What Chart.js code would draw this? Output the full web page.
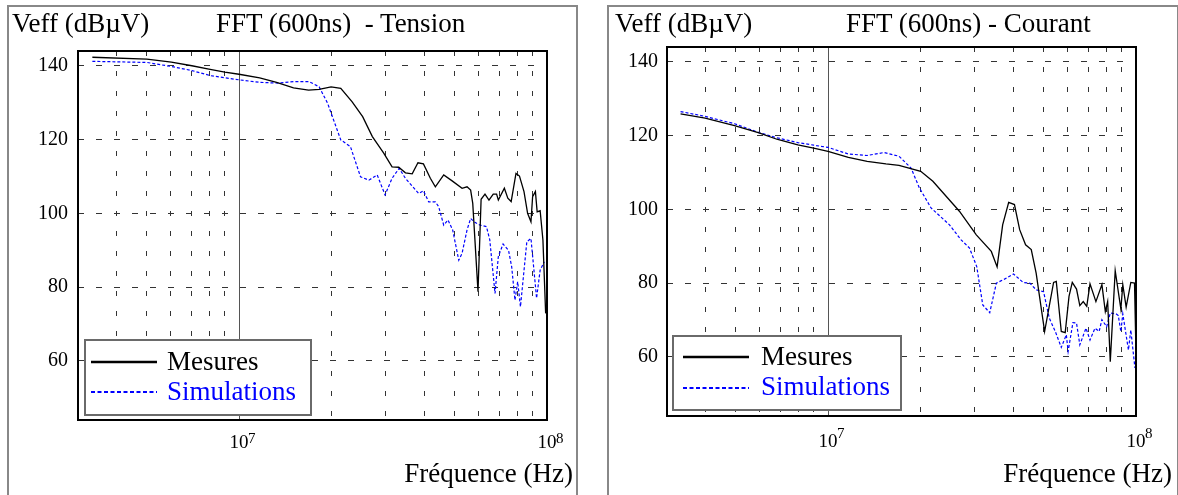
<!DOCTYPE html>
<html><head><meta charset="utf-8">
<script src="https://cdn.jsdelivr.net/npm/chart.js@4.4.1/dist/chart.umd.min.js"></script>
<style>
html,body{margin:0;padding:0;background:#fff;width:1178px;height:495px;overflow:hidden;font-family:'Liberation Serif','Times New Roman',serif;}
.panel{position:absolute;border:2px solid #888;box-sizing:border-box;}
canvas{position:absolute;top:0;}
.t{position:absolute;font-size:27px;line-height:27px;white-space:pre;color:#000;}
.leg{position:absolute;background:#fff;border:2px solid #6a6a6a;box-sizing:border-box;}
svg{position:absolute;left:0;top:0;}
</style></head><body>
<div class="panel" style="left:7px;top:5px;width:571px;height:505px"></div>
<div class="panel" style="left:607px;top:5px;width:572px;height:505px"></div>
<canvas id="c1" width="590" height="495" style="left:0px"></canvas>
<canvas id="c2" width="588" height="495" style="left:590px"></canvas>

<div class="t" style="left:12px;top:10px">Veff (dBµV)</div>
<div class="t" style="left:216px;top:10px">FFT (600ns)  - Tension</div>
<div class="t" style="right:605px;top:460px">Fréquence (Hz)</div>

<div class="t" style="left:615px;top:10px">Veff (dBµV)</div>
<div class="t" style="left:846px;top:10px">FFT (600ns) - Courant</div>
<div class="t" style="right:6px;top:460px">Fréquence (Hz)</div>

<div class="leg" style="left:84px;top:339px;width:228px;height:77px"></div>
<div class="leg" style="left:672px;top:335px;width:230px;height:76px"></div>
<svg width="1178" height="495">
  <line x1="91" y1="362" x2="157" y2="362" stroke="#000" stroke-width="2.5"/>
  <line x1="91" y1="392" x2="157" y2="392" stroke="#0000ff" stroke-width="2" stroke-dasharray="4 2.5"/>
  <line x1="683" y1="357" x2="749" y2="357" stroke="#000" stroke-width="2.5"/>
  <line x1="683" y1="388" x2="749" y2="388" stroke="#0000ff" stroke-width="2" stroke-dasharray="4 2.5"/>
</svg>
<div class="t" style="left:167px;top:348px">Mesures</div>
<div class="t" style="left:167px;top:378px;color:#0000ff">Simulations</div>
<div class="t" style="left:761px;top:343px">Mesures</div>
<div class="t" style="left:761px;top:373px;color:#0000ff">Simulations</div>

<script>
// ---------- Data ----------
const seriesNames = ['Mesures', 'Simulations'];
const yTickValues = [60, 80, 100, 120, 140];
const xGridValues = [4e6,5e6,6e6,7e6,8e6,9e6,1e7,2e7,3e7,4e7,5e7,6e7,7e7,8e7,9e7,1e8];
const xLabelValues = [1e7, 1e8];
const xLabelBase = ['10', '10'];
const xLabelExp = ['7', '8'];

// Tension - Mesures
const tensionMesFreq = [3.34e6,5.02e6,6.03e6,7.03e6,7.98e6,8.99e6,1e7,1.167e7,1.324e7,1.503e7,1.682e7,1.82e7,1.99e7,2.14e7,2.33e7,2.52e7,2.71e7,2.95e7,3.14e7,3.30e7,3.47e7,3.65e7,3.81e7,3.97e7,4.18e7,4.34e7,4.62e7,4.92e7,5.30e7,5.50e7,5.65e7,5.74e7,5.97e7,6.11e7,6.29e7,6.48e7,6.69e7,6.86e7,6.95e7,7.27e7,7.46e7,7.65e7,7.93e7,8.14e7,8.42e7,8.65e7,8.87e7,8.98e7,9.17e7,9.29e7,9.50e7,9.70e7,9.90e7];
const tensionMesDb   = [142.3,141.8,141.0,140.0,139.1,138.3,137.7,136.7,135.5,134.0,133.4,133.6,134.3,133.9,130.2,126.2,120.8,116.3,112.6,112.5,111.0,110.7,113.7,113.4,109.5,107.2,110.4,108.8,106.8,107.2,106.3,102.7,78.8,103.8,105.2,103.6,105.2,105.2,103.6,106.8,104.1,103.2,110.8,110.1,105.9,100.0,97.7,104.5,105.9,100.4,100.7,92.8,72.9];

// Tension - Simulations
const tensionSimFreq = [3.34e6,5.02e6,6.03e6,7.03e6,8.1e6,9.06e6,1e7,1.167e7,1.343e7,1.503e7,1.69e7,1.82e7,1.94e7,2.01e7,2.14e7,2.30e7,2.48e7,2.64e7,2.81e7,2.98e7,3.14e7,3.31e7,3.47e7,3.83e7,3.97e7,4.13e7,4.34e7,4.45e7,4.62e7,4.77e7,4.94e7,5.17e7,5.30e7,5.50e7,5.65e7,5.85e7,6.07e7,6.36e7,6.52e7,6.78e7,6.95e7,7.20e7,7.50e7,7.68e7,7.87e7,8.03e7,8.20e7,8.60e7,8.87e7,9.25e7,9.50e7,9.80e7];
const tensionSimDb   = [141.2,140.9,139.8,138.7,137.3,136.7,136.2,135.5,135.3,135.7,135.7,134.3,129.8,126.2,119.9,118.1,109.9,109.0,110.4,105.0,109.5,112.2,109.5,105.4,106.1,103.1,103.1,101.8,96.8,98.2,95.5,87.3,89.2,95.5,98.6,97.5,96.8,96.4,92.8,78.3,88.3,91.7,90.0,85.5,76.5,81.5,74.7,92.3,93.2,77.0,84.6,86.9];

// Courant - Mesures
const courantMesFreq = [3.32e6,3.99e6,4.97e6,5.97e6,6.82e6,7.98e6,8.98e6,1e7,1.164e7,1.34e7,1.542e7,1.70e7,2.0e7,2.19e7,2.67e7,3.03e7,3.39e7,3.54e7,3.69e7,3.86e7,4.03e7,4.19e7,4.38e7,4.57e7,4.74e7,5.05e7,5.40e7,5.51e7,5.72e7,5.89e7,6.06e7,6.21e7,6.41e7,6.57e7,6.74e7,6.92e7,7.09e7,7.41e7,7.75e7,7.95e7,8.09e7,8.25e7,8.56e7,8.93e7,9.06e7,9.29e7,9.62e7,9.89e7,1e8];
const courantMesDb   = [125.9,124.7,122.7,120.7,119.0,117.5,116.6,115.7,114.1,113.0,112.3,111.9,110.3,107.6,99.5,93.1,88.6,84.4,95.8,101.9,101.3,94.5,90.4,89.1,82.7,66.9,80.2,80.5,66.9,66.6,76.4,80.2,78.4,73.9,75.0,73.7,79.8,75.0,79.6,72.3,75.0,58.7,83.4,73.0,79.6,73.5,80.2,80.0,61.0];

// Courant - Simulations
const courantSimFreq = [3.32e6,3.99e6,4.97e6,5.97e6,6.82e6,7.98e6,8.98e6,1e7,1.164e7,1.34e7,1.52e7,1.70e7,1.86e7,1.98e7,2.16e7,2.48e7,2.70e7,2.88e7,3.04e7,3.18e7,3.35e7,3.52e7,3.74e7,4.0e7,4.30e7,4.52e7,4.74e7,5.01e7,5.23e7,5.47e7,5.72e7,5.94e7,6.02e7,6.24e7,6.41e7,6.57e7,6.88e7,7.09e7,7.36e7,7.59e7,7.75e7,8.03e7,8.25e7,8.61e7,8.76e7,8.93e7,9.06e7,9.45e7,9.62e7,9.92e7];
const courantSimDb   = [126.5,125.2,123.2,120.8,119.4,118.1,117.4,116.8,115.0,114.6,115.4,114.4,111.2,105.8,100.4,95.8,91.8,89.5,84.5,74.1,72.0,80.0,81.1,82.5,80.2,80.0,78.2,77.7,70.5,66.9,62.6,66.0,61.5,69.3,69.2,63.3,67.8,64.6,67.8,66.9,70.1,68.2,71.9,71.7,71.2,66.9,71.7,61.9,67.3,57.0];

// ---------- Chart building ----------
const FONT = "'Liberation Serif', 'Times New Roman', serif";
const zip = (xs, ys) => xs.map((x, i) => ({x: x, y: ys[i]}));

const framePlugin = {
  id: 'frame',
  afterDatasetsDraw(chart) {
    const {ctx, chartArea: a} = chart;
    ctx.save();
    ctx.lineWidth = 2;
    ctx.strokeStyle = '#000';
    ctx.strokeRect(a.left, a.top, a.right - a.left, a.bottom - a.top);
    ctx.restore();
  }
};

// draws the decade exponent next to each "10" tick label, placed from the x scale
const exponentPlugin = {
  id: 'exponent',
  afterDraw(chart, args, opts) {
    const {ctx, chartArea: a} = chart;
    const xs = chart.scales.x;
    ctx.save();
    ctx.fillStyle = '#000';
    ctx.font = '15px ' + FONT;
    ctx.textAlign = 'left';
    ctx.textBaseline = 'alphabetic';
    xLabelValues.forEach((v, i) => {
      const px = xs.getPixelForValue(v);
      ctx.fillText(xLabelExp[i], px + 9, a.bottom + opts.dy);
    });
    ctx.restore();
  }
};

function makeChart(id, mesF, mesY, simF, simY, lay) {
  return new Chart(document.getElementById(id), {
    type: 'line',
    data: {
      datasets: [
        {label: seriesNames[0], data: zip(mesF, mesY), borderColor: '#000', borderWidth: 1.3,
         pointRadius: 0, tension: 0, fill: false},
        {label: seriesNames[1], data: zip(simF, simY), borderColor: '#0000ff', borderWidth: 1.2,
         borderDash: [3, 2], pointRadius: 0, tension: 0, fill: false}
      ]
    },
    options: {
      responsive: false,
      animation: false,
      devicePixelRatio: 1,
      layout: {padding: {left: 0, top: lay.top, right: lay.right, bottom: 0}},
      plugins: {legend: {display: false}, tooltip: {enabled: false}, title: {display: false},
                exponent: {dy: lay.expDy}},
      scales: {
        x: {
          type: 'logarithmic', min: 3e6, max: 1e8,
          afterBuildTicks: s => { s.ticks = xGridValues.map(v => ({value: v})); },
          afterFit: s => { s.height = lay.xh; },
          ticks: {
            autoSkip: false, maxRotation: 0, minRotation: 0, padding: lay.xpad,
            color: '#000', font: {family: FONT, size: 19},
            callback: v => { const i = xLabelValues.indexOf(v); return i >= 0 ? xLabelBase[i] : ''; }
          },
          grid: {
            drawTicks: false, lineWidth: 1,
            color: c => (c.tick && c.tick.value === 1e7) ? '#555' : '#333'
          },
          border: {display: false, dash: c => (c.tick && c.tick.value === 1e7) ? [] : [5, 15]}
        },
        y: {
          type: 'linear', min: 44, max: 144,
          afterBuildTicks: s => { s.ticks = yTickValues.map(v => ({value: v})); },
          afterFit: s => { s.width = lay.yw; },
          ticks: {padding: lay.ypad, color: '#000', font: {family: FONT, size: 20}},
          grid: {drawTicks: false, lineWidth: 1, color: '#333'},
          border: {display: false, dash: [6, 12]}
        }
      }
    },
    plugins: [framePlugin, exponentPlugin]
  });
}

makeChart('c1', tensionMesFreq, tensionMesDb, tensionSimFreq, tensionSimDb,
  {top: 51, right: 43, xh: 75, yw: 78, xpad: 12, ypad: 10, expDy: 23});
makeChart('c2', courantMesFreq, courantMesDb, courantSimFreq, courantSimDb,
  {top: 47, right: 42, xh: 79, yw: 77, xpad: 15, ypad: 9, expDy: 22});
</script>
</body></html>
